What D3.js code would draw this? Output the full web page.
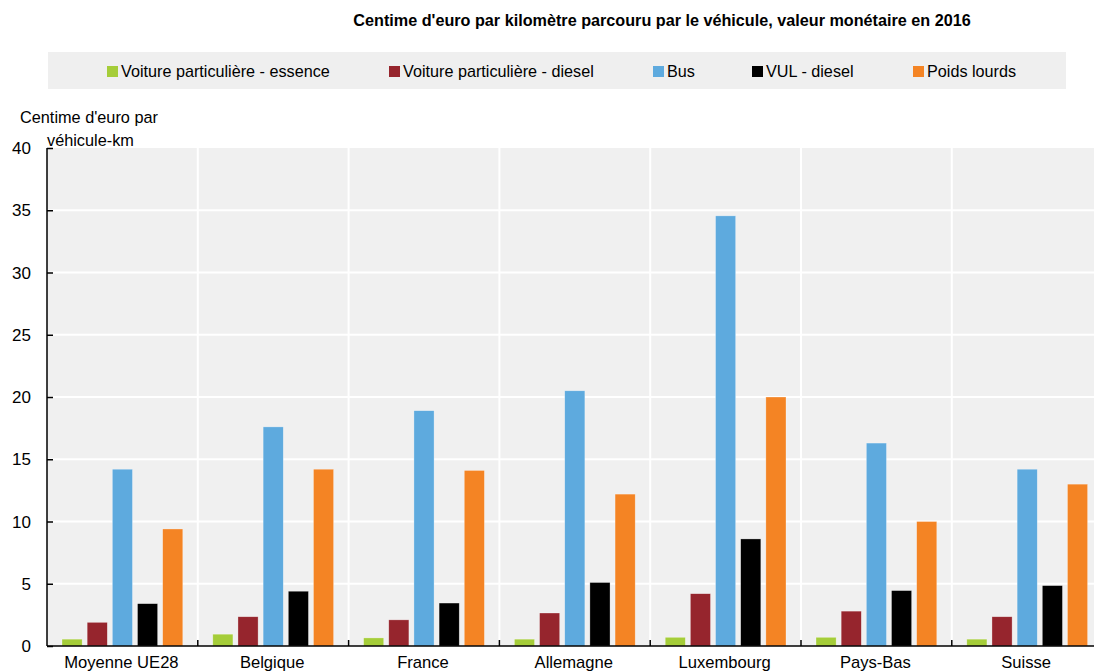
<!DOCTYPE html>
<html>
<head>
<meta charset="utf-8">
<script src="https://cdn.jsdelivr.net/npm/d3@7"></script>
<style>
  body { margin: 0; background: #fff; }
  svg text { font-family: "Liberation Sans", Arial, sans-serif; fill: #000; }
</style>
</head>
<body>
<svg id="chart" width="1094" height="672"></svg>
<script>
// Road transport external costs, euro cents per vehicle-km (2016 values)
const countries = ["Moyenne UE28", "Belgique", "France", "Allemagne", "Luxembourg", "Pays-Bas", "Suisse"];
const seriesNames = ["Voiture particulière - essence", "Voiture particulière - diesel", "Bus", "VUL - diesel", "Poids lourds"];
const seriesColors = ["#a5cd39", "#96252d", "#5eaade", "#000000", "#f48424"];

const essence = [0.55, 0.95, 0.65, 0.55, 0.7, 0.7, 0.55];
const diesel = [1.9, 2.35, 2.1, 2.65, 4.2, 2.8, 2.35];
const bus = [14.2, 17.6, 18.9, 20.5, 34.55, 16.3, 14.2];
const vul = [3.4, 4.4, 3.45, 5.1, 8.6, 4.45, 4.85];
const poidsLourds = [9.4, 14.2, 14.1, 12.2, 20.0, 10.0, 13.0];
const yTicks = [0, 5, 10, 15, 20, 25, 30, 35, 40];

const seriesValues = [essence, diesel, bus, vul, poidsLourds];

const svg = d3.select("#chart");
const margin = { left: 47, top: 148, bottom: 646 };
const plotRight = margin.left + 150.8 * countries.length;

const x = d3.scaleBand().domain(countries).range([margin.left, plotRight]).paddingInner(0).paddingOuter(0);
const xs = d3.scaleBand().domain(d3.range(seriesNames.length)).range([15, x.bandwidth() - 15]).paddingInner(0.2).paddingOuter(0);
const y = d3.scaleLinear().domain([0, 40]).range([margin.bottom, margin.top]);

// Title
svg.append("text")
  .attr("x", 662).attr("y", 26)
  .attr("text-anchor", "middle")
  .style("font-weight", "bold")
  .style("font-size", "16.2px")
  .text("Centime d'euro par kilomètre parcouru par le véhicule, valeur monétaire en 2016");

// Legend
svg.append("rect").attr("x", 48).attr("y", 52).attr("width", 1018).attr("height", 37).attr("fill", "#efefef");
const legendX = [107, 389, 653, 752, 913];
const legend = svg.append("g").selectAll("g").data(seriesNames).join("g")
  .attr("transform", (d, i) => `translate(${legendX[i]},71)`);
legend.append("rect").attr("x", 0).attr("y", -5).attr("width", 11).attr("height", 11)
  .attr("fill", (d, i) => seriesColors[i]);
legend.append("text").attr("x", 14).attr("y", 6).style("font-size", "16.2px").text(d => d);

// Plot background
svg.append("rect").attr("x", margin.left).attr("y", margin.top)
  .attr("width", plotRight - margin.left).attr("height", margin.bottom - margin.top)
  .attr("fill", "#f0f0f0");

// Gridlines
svg.append("g").selectAll("line").data(yTicks.filter(t => t > 0 && t < 40)).join("line")
  .attr("x1", margin.left).attr("x2", plotRight)
  .attr("y1", d => y(d)).attr("y2", d => y(d))
  .attr("stroke", "#fff").attr("stroke-width", 2);
svg.append("g").selectAll("line").data(countries.slice(1)).join("line")
  .attr("x1", d => x(d)).attr("x2", d => x(d))
  .attr("y1", margin.top).attr("y2", margin.bottom)
  .attr("stroke", "#fff").attr("stroke-width", 2);

// Bars
const groups = svg.append("g").selectAll("g").data(seriesValues).join("g")
  .attr("fill", (d, i) => seriesColors[i]);
groups.each(function (vals, si) {
  d3.select(this).selectAll("rect").data(vals).join("rect")
    .attr("x", (v, ci) => x(countries[ci]) + xs(si))
    .attr("width", xs.bandwidth())
    .attr("y", v => y(v))
    .attr("height", v => y(0) - y(v))
    .attr("stroke", "rgba(255,255,255,0.5)")
    .attr("stroke-width", 0.6);
});

// Y axis: ticks point into the plot
const yAxis = d3.axisRight(y).tickValues(yTicks).tickSize(6).tickFormat("");
const yG = svg.append("g").attr("transform", `translate(${margin.left},0)`).call(yAxis);
yG.select(".domain").attr("stroke", "#000").attr("stroke-width", 1.5).attr("d", `M0,${y(40)}V${y(0)}`);
yG.selectAll(".tick line").attr("stroke", "#000").attr("stroke-width", 1.5);
svg.append("g").selectAll("text").data(yTicks).join("text")
  .attr("x", 31).attr("y", d => y(d) + 6)
  .attr("text-anchor", "end").style("font-size", "17px")
  .text(d => d);

// X axis
svg.append("line").attr("x1", margin.left).attr("x2", plotRight)
  .attr("y1", y(0)).attr("y2", y(0)).attr("stroke", "#000").attr("stroke-width", 1.5);
svg.append("g").selectAll("line").data(countries.slice(1)).join("line")
  .attr("x1", d => x(d)).attr("x2", d => x(d))
  .attr("y1", y(0)).attr("y2", y(0) - 6)
  .attr("stroke", "#000").attr("stroke-width", 1.5);
svg.append("g").selectAll("text").data(countries).join("text")
  .attr("x", d => x(d) + x.bandwidth() / 2 - 1).attr("y", 668)
  .attr("text-anchor", "middle").style("font-size", "16.6px")
  .text(d => d);

// Y axis title
svg.append("text").attr("x", 20).attr("y", 123).style("font-size", "16.3px").text("Centime d'euro par");
svg.append("text").attr("x", 47).attr("y", 146).style("font-size", "16.3px").text("véhicule-km");
</script>
</body>
</html>
